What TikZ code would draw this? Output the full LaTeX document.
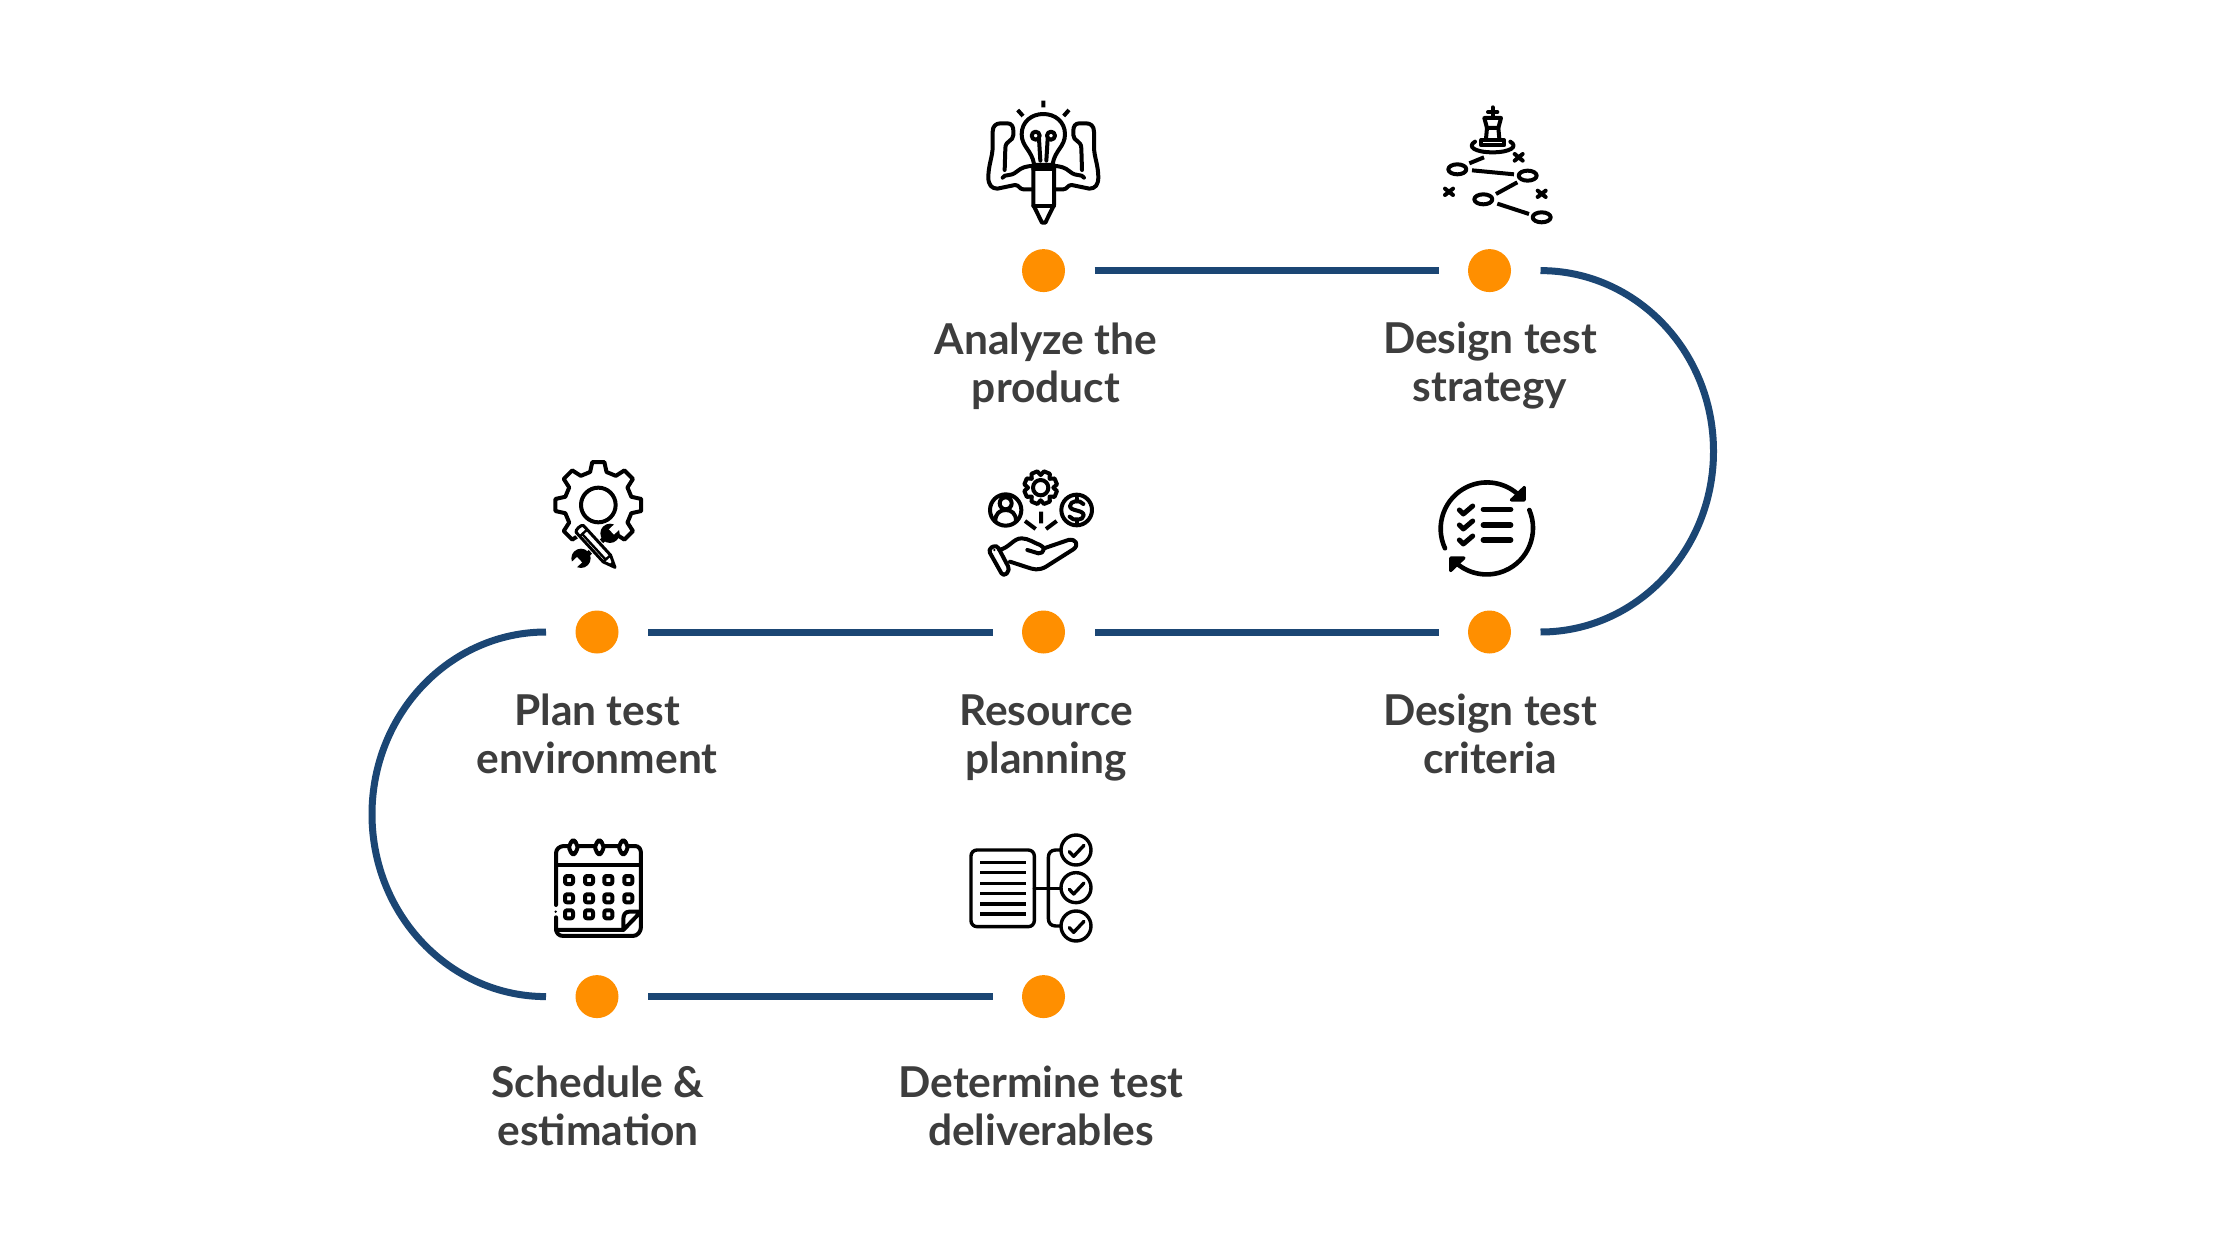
\documentclass[tikz,border=0pt]{standalone}
\usepackage{fontspec}
\setmainfont{Lato}
\definecolor{dotorange}{HTML}{FF8F00}
\definecolor{pathblue}{HTML}{1B4674}
\definecolor{labelgrey}{HTML}{3D3D3D}
\tikzset{
  dotnode/.style={circle,fill=dotorange,minimum size=43pt,inner sep=0pt,outer sep=29.5pt},
  pathline/.style={draw=pathblue,line width=7pt},
  steplabel/.style={align=center,text=labelgrey,font=\fontsize{42.5}{48}\selectfont\bfseries,inner sep=0pt},
  icon/.style={line width=4pt,line cap=round,line join=round,black},
  zoomed/.style 2 args={shift={(#1,#2)},x=0.3333pt,y=-0.3333pt},
  mirrored/.style={xscale=-1,shift={(-500,0)}}
}
\newcommand{\bulbarm}{%
  \draw[icon] (215,298) -- (190,298) .. controls (178,298) and (178,285) .. (165,285) -- (112,296)
    .. controls (95,296) and (85,285) .. (85,262) .. controls (85,225) and (98,200) .. (98,170) -- (98,125)
    .. controls (98,108) and (108,100) .. (122,100) -- (142,100) .. controls (155,100) and (160,110) .. (160,122)
    -- (160,135) .. controls (160,155) and (136,150) .. (136,175) -- (134,240);
  \draw[icon] (128,263) .. controls (135,250) and (150,262) .. (170,245) .. controls (185,232) and (200,228) .. (220,228);
}
\begin{document}
\begin{tikzpicture}[x=1pt,y=-1pt]
\useasboundingbox (0,0) rectangle (2240,1260);
\fill[white] (0,0) rectangle (2240,1260);

% dots
\node[dotnode] (d1) at (1043.5,270.6) {};
\node[dotnode] (d2) at (1489.5,270.6) {};
\node[dotnode] (d3) at (1489.5,632) {};
\node[dotnode] (d4) at (1043.5,632) {};
\node[dotnode] (d5) at (597,632) {};
\node[dotnode] (d6) at (597,996.6) {};
\node[dotnode] (d7) at (1043.5,996.6) {};

% connectors
\draw[pathline] (d1) -- (d2);
\draw[pathline] (d3) -- (d4);
\draw[pathline] (d4) -- (d5);
\draw[pathline] (d6) -- (d7);
\draw[pathline] (d2.east) arc[start angle=-90,end angle=90,x radius=173,y radius=180.7];
\draw[pathline] (d5.west) arc[start angle=270,end angle=90,x radius=174,y radius=182.3];

% labels
\node[steplabel] (t1) at (1046,366) {Analyze the\\product};
\node[steplabel] (t2) at (1490,366) {Design test\\strategy};
\node[steplabel] (t3) at (1490,734) {Design test\\criteria};
\node[steplabel] (t4) at (1046,738) {Resource\\planning};
\node[steplabel] (t5) at (597,734) {Plan test\\environment};
\node[steplabel] (t6) at (598,1106) {Schedule \&\\estimation};
\node[steplabel] (t7) at (1041,1106) {Determine test\\deliverables};

% icon 1: bulb, arms, pencil
\begin{scope}[zoomed={960}{90}]
  \draw[icon] (222,222) .. controls (215,180) and (185,170) .. (185,133) .. controls (185,95) and (215,72) .. (250,72)
     .. controls (285,72) and (315,95) .. (315,133) .. controls (315,170) and (285,180) .. (278,222);
  \draw[icon] (241,212) -- (237,146) (259,212) -- (263,146);
  \draw[icon] (227,137) circle[radius=12] (273,137) circle[radius=12];
  \draw[icon,line cap=butt] (250,32) -- (250,52) (173,60) -- (189,78) (327,60) -- (311,78);
  \bulbarm
  \begin{scope}[mirrored]\bulbarm\end{scope}
  \draw[icon,fill=white] (220,225) -- (282,225) -- (282,345) -- (256,398) -- (246,398) -- (220,345) -- cycle;
  \draw[icon] (220,238) -- (282,238) (220,348) -- (282,348);
\end{scope}

% icon 2: chess plan
\begin{scope}[zoomed={1420}{90}]
  \draw[icon] (218,52) -- (218,76) (204,66) -- (232,66);
  \draw[icon] (193,84) -- (243,84) -- (235,114) -- (201,114) -- cycle;
  \draw[icon] (201,114) -- (198,146) (235,114) -- (238,146);
  \draw[icon] (184,150) rectangle (252,166);
  \draw[icon] (165,155) .. controls (140,170) and (165,187) .. (218,187) .. controls (270,187) and (296,170) .. (271,155);
  \draw[icon,line cap=butt] (148,220) -- (192,202);
  \draw[icon] (112,238) ellipse[x radius=27,y radius=15] (323,257) ellipse[x radius=27,y radius=15]
              (190,328) ellipse[x radius=27,y radius=15] (365,382) ellipse[x radius=27,y radius=15];
  \draw[icon,line cap=butt] (156,241) -- (282,253) (228,312) -- (292,277) (232,341) -- (327,372);
  \draw[icon] (284,192) -- (308,212) (284,212) -- (308,192)
              (75,296) -- (99,315) (75,315) -- (99,296)
              (353,302) -- (377,321) (353,321) -- (377,302);
\end{scope}

% icon 3: gear with tools
\begin{scope}[zoomed={530}{450}]
  \begin{scope}[shift={(205,165)}]
    \draw[icon] (121:102) \foreach \ang in {135,180,...,405} {
       -- ({\ang-14}:102) -- ({\ang-8}:130) -- ({\ang+8}:130) -- ({\ang+14}:102) };
    \draw[icon] (0,0) circle[radius=52];
  \end{scope}
  % wrench
  \draw[white,line width=9pt] (240,255) -- (157,328);
  \draw[black,line width=5pt] (238,252) -- (157,328);
  \fill[black] (240,250) circle[radius=29] (153,325) circle[radius=29];
  \begin{scope}[shift={(240,250)},rotate=43]
    \fill[white] (6,-11) rectangle (40,11);
  \end{scope}
  \begin{scope}[shift={(153,325)},rotate=223]
    \fill[white] (6,-11) rectangle (40,11);
  \end{scope}
  % pencil
  \begin{scope}[shift={(155,243)},rotate=-47.5]
    \draw[white,line width=8pt] (-8,0) -- (120,0);
    \draw[white,line width=15pt] (-8,0) -- (110,0);
    \draw[icon,line width=3pt,fill=white] (-8,-15) .. controls (-16,-15) and (-16,15) .. (-8,15) -- (112,15) -- (148,0) -- (112,-15) -- cycle;
    \draw[line width=2.4pt,black] (8,-15) -- (8,15) (8,5) -- (112,5) (112,-15) -- (112,15);
    \fill[black] (130,-8) -- (148,0) -- (130,8) -- cycle;
  \end{scope}
\end{scope}

% icon 4: hand with resources
\begin{scope}[zoomed={970}{460}]
  \begin{scope}[shift={(212,83)}]
    \draw[icon] (0.5:38) \foreach \ang in {22.5,67.5,...,337.5} {
       -- ({\ang-22}:38) -- ({\ang-11}:50) -- ({\ang+11}:50) -- ({\ang+22}:38) } -- cycle;
    \draw[icon] (0,0) circle[radius=23];
  \end{scope}
  \draw[icon] (107,150) circle[radius=47] (107,130) circle[radius=18];
  \draw[icon] (76,183) .. controls (76,160) and (90,150) .. (107,150) .. controls (124,150) and (138,160) .. (138,183);
  \draw[icon] (320,150) circle[radius=46];
  \draw[icon] (340,132) .. controls (330,118) and (300,122) .. (300,138) .. controls (300,155) and (341,148) .. (341,166)
     .. controls (341,182) and (308,184) .. (299,170);
  \draw[icon] (320,114) -- (320,124) (320,178) -- (320,188);
  \draw[icon,line cap=butt] (213,155) -- (213,190) (165,183) -- (197,207) (260,183) -- (228,207);
  \draw[icon,rounded corners=4pt] (54,268) -- (80,254) -- (120,330) -- (100,350) -- cycle;
  \draw[icon] (88,270) .. controls (120,262) and (130,235) .. (155,235) .. controls (175,235) and (195,250) .. (210,255)
     .. controls (228,260) and (222,282) .. (205,280) -- (172,270);
  \draw[icon] (222,265) -- (295,240) .. controls (318,235) and (328,255) .. (310,268) -- (228,320)
     .. controls (205,333) and (190,328) .. (172,322) -- (120,305);
  \fill[black] (73,270) circle[radius=4];
\end{scope}

% icon 5: checklist with cycle
\begin{scope}[zoomed={1420}{470}]
  \draw[icon,line width=4.6pt] (75,235) arc[start angle=155,end angle=316,radius=139];
  \draw[icon,line width=4.6pt] (328,120) arc[start angle=337,end angle=490,radius=139];
  \fill[black,draw=black,line width=3pt,line join=round] (313,52) -- (313,90) -- (274,90) -- cycle;
  \fill[black,draw=black,line width=3pt,line join=round] (92,264) -- (132,264) -- (92,302) -- cycle;
  \draw[icon,line width=5.4pt] (190,118) -- (272,118) (190,165) -- (272,165) (190,210) -- (272,210);
  \draw[icon,line width=5pt] (118,120) -- (130,132) -- (158,108)
     (118,165) -- (130,177) -- (158,153) (118,210) -- (130,222) -- (158,198);
\end{scope}

% icon 6: calendar
\begin{scope}[zoomed={540}{830}]
  \draw[icon] (285,48) .. controls (297,48) and (303,58) .. (303,70) -- (303,290) .. controls (303,305) and (293,318) .. (278,318) -- (70,318)
     .. controls (55,318) and (48,308) .. (48,295) -- (48,262);
  \fill[black] (47,245) circle[radius=4];
  \draw[icon] (48,225) -- (48,70) .. controls (48,58) and (58,48) .. (72,48) -- (285,48);
  \draw[icon] (48,105) -- (303,105);
  \draw[icon] (48,300) -- (250,300) -- (303,245) -- (268,245) .. controls (255,245) and (250,255) .. (250,268) -- (250,300);
  \foreach \cx in {100,178,250} {
    \draw[icon,fill=white,rounded corners=5.5pt] ({\cx-12},32) rectangle ({\cx+12},72);
  }
  \foreach \gy in {150,205} \foreach \gx in {87,147,205,265} {
    \draw[icon,rounded corners=2pt] ({\gx-12},{\gy-12}) rectangle ({\gx+12},{\gy+12});
  }
  \foreach \gx in {87,147,205} {
    \draw[icon,rounded corners=2pt] ({\gx-12},241) rectangle ({\gx+12},265);
  }
\end{scope}

% icon 7: document and checks
\begin{scope}[zoomed={960}{825},icon/.append style={line width=3.4pt}]
  \draw[icon,rounded corners=6pt] (33,75) rectangle (223,305);
  \draw[icon,line cap=butt] (60,112) -- (197,112) (60,143) -- (197,143) (60,175) -- (197,175)
     (60,206) -- (197,206) (60,237) -- (197,237) (60,267) -- (197,267);
  \draw[icon] (223,190) -- (302,190);
  \draw[icon] (300,75) -- (287,75) .. controls (272,75) and (265,85) .. (265,98) -- (265,280) .. controls (265,293) and (272,303) .. (287,303) -- (300,303);
  \foreach \cy in {75,188,303} {
    \draw[icon] (348,\cy) circle[radius=45];
    \draw[icon] (328,{\cy+5}) -- (341,{\cy+19}) -- (372,{\cy-14});
  }
\end{scope}
\end{tikzpicture}
\end{document}
